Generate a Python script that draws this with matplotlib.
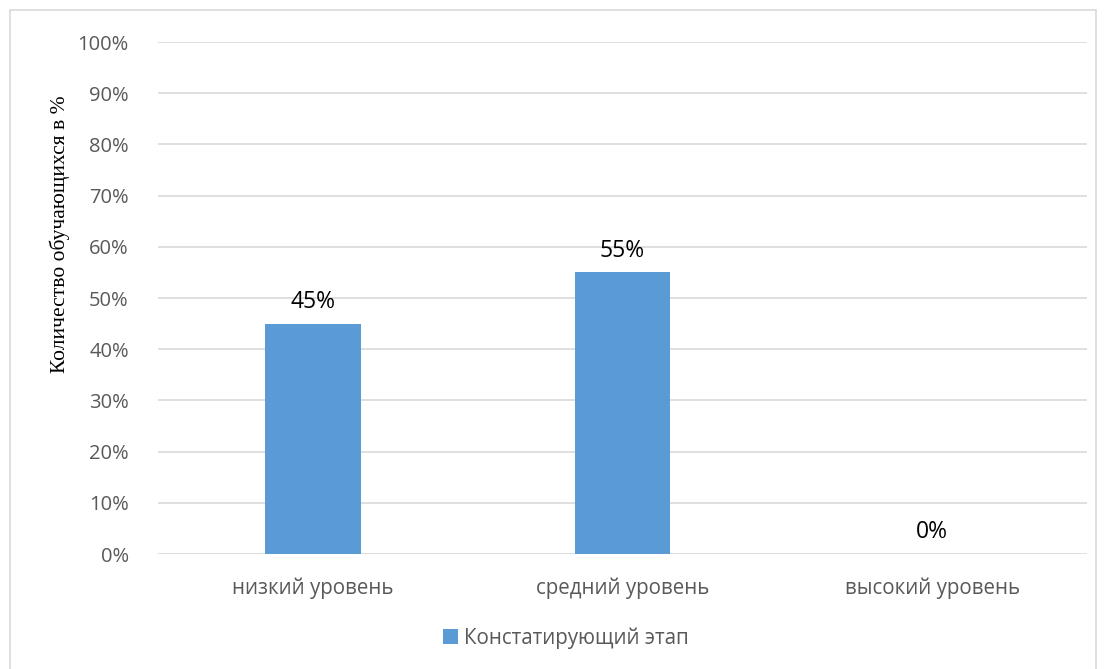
import matplotlib
matplotlib.use("Agg")
import matplotlib.pyplot as plt
from matplotlib.patches import Rectangle

categories = ["низкий уровень", "средний уровень", "высокий уровень"]
values = [45, 55, 0]
series_name = "Констатирующий этап"
yticks = [0, 10, 20, 30, 40, 50, 60, 70, 80, 90, 100]

plt.rcParams['font.family'] = ['Open Sans', 'DejaVu Sans']

fig = plt.figure(figsize=(11.06, 6.69), dpi=100)
fig.patches.append(Rectangle((10/1106, -0.01), (1096-10)/1106, 1 - 10/669 + 0.01,
                             transform=fig.transFigure, fill=False,
                             edgecolor="#d9d9d9", linewidth=1.2))
ax = fig.add_axes([158/1106, 1-554/669, (1087-158)/1106, (554-42)/669])

x = range(len(categories))
bars = ax.bar(x, values, width=0.31, color="#5b9bd5", label=series_name, zorder=3)
for xi, v in zip(x, values):
    ax.text(xi, v + 1.9, f"{v}%", ha="center", va="bottom", fontsize=16.5, color="black")

ax.set_xlim(-0.5, 2.5)
ax.set_ylim(0, 100)
ax.set_yticks(yticks)
ax.set_yticklabels([f"{t}%" for t in yticks], fontsize=14.5, color="#595959")
ax.set_xticks(list(x))
ax.set_xticklabels(categories, fontsize=14.8, color="#595959")
ax.tick_params(length=0)
ax.tick_params(axis='y', pad=21)
ax.tick_params(axis='x', pad=17)
ax.grid(axis='y', color="#d9d9d9", linewidth=1.2, zorder=0)
for s in ax.spines.values():
    s.set_visible(False)
ax.set_ylabel("Количество обучающихся в %", family="Liberation Serif", fontsize=15.5, color="black")
ax.yaxis.set_label_coords(70/1106, 1-234/669, transform=fig.transFigure)

fig.legend(handles=[bars], labels=[series_name], loc="center", bbox_to_anchor=(566/1106, 1-638/669),
           frameon=False, fontsize=14.8, handlelength=0.75, handleheight=0.75, handletextpad=0.3,
           labelcolor="#595959")

fig.savefig("out.png", dpi=100)
